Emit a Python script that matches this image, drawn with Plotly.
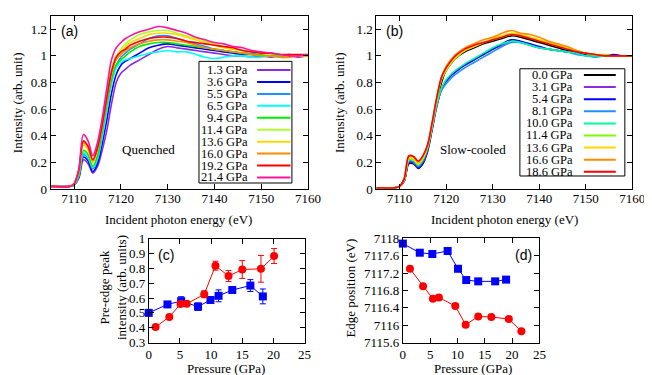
import plotly.graph_objects as go

# ---------------- data ----------------
energy = [7105, 7109, 7110, 7111, 7112, 7113, 7114, 7115, 7116, 7117, 7118, 7119, 7120, 7121, 7122,
          7124, 7126, 7128, 7130, 7132, 7134, 7136, 7138, 7140, 7142, 7144, 7146, 7148, 7150,
          7152, 7154, 7156, 7158, 7160]

# (a) Quenched spectra
quenched_labels = ["1.3 GPa", "3.6 GPa", "5.5 GPa", "6.5 GPa", "9.4 GPa", "11.4 GPa",
                   "13.6 GPa", "16.0 GPa", "19.2 GPa", "21.4 GPa"]
quenched_colors = ["#8a2be2", "#0000ff", "#1e90ff", "#00ffff", "#00ee00", "#adff2f",
                   "#ffd700", "#ff8c00", "#ff0000", "#ff149d"]
q_1p3 = [0.02, 0.02, 0.03, 0.08, 0.22, 0.19, 0.12, 0.17, 0.29, 0.44, 0.64, 0.80, 0.87, 0.90, 0.93,
         0.97, 1.01, 1.05, 1.07, 1.06, 1.05, 1.04, 1.03, 1.02, 1.01, 1.00, 1.00, 0.99, 1.00, 0.99, 1.00, 1.00, 0.99, 1.00]
q_3p6 = [0.02, 0.02, 0.03, 0.09, 0.24, 0.21, 0.13, 0.19, 0.34, 0.52, 0.72, 0.86, 0.93, 0.96, 0.98,
         1.02, 1.06, 1.08, 1.09, 1.08, 1.07, 1.06, 1.05, 1.04, 1.03, 1.02, 1.01, 1.01, 1.00, 1.00, 1.00, 1.01, 1.00, 1.00]
q_5p5 = [0.02, 0.02, 0.03, 0.10, 0.26, 0.23, 0.15, 0.22, 0.40, 0.60, 0.80, 0.93, 0.99, 1.02, 1.05,
         1.09, 1.13, 1.15, 1.15, 1.13, 1.11, 1.09, 1.07, 1.05, 1.04, 1.03, 1.02, 1.02, 1.01, 1.00, 1.00, 1.00, 1.00, 1.00]
q_6p5 = [0.02, 0.02, 0.03, 0.10, 0.27, 0.24, 0.16, 0.23, 0.39, 0.59, 0.79, 0.91, 0.95, 0.97, 0.98,
         1.00, 1.02, 1.03, 1.04, 1.03, 1.03, 1.01, 0.99, 0.98, 0.99, 1.00, 1.00, 0.99, 0.99, 1.00, 0.99, 1.00, 1.00, 1.00]
q_9p4 = [0.02, 0.02, 0.03, 0.11, 0.29, 0.26, 0.17, 0.25, 0.43, 0.63, 0.82, 0.93, 0.97, 1.00, 1.03,
         1.07, 1.09, 1.10, 1.10, 1.09, 1.08, 1.07, 1.06, 1.05, 1.04, 1.03, 1.02, 1.01, 1.01, 1.00, 1.00, 1.00, 1.00, 1.00]
q_11p4 = [0.02, 0.02, 0.04, 0.14, 0.36, 0.32, 0.21, 0.32, 0.51, 0.72, 0.90, 1.00, 1.05, 1.09, 1.12,
          1.16, 1.18, 1.19, 1.19, 1.17, 1.15, 1.13, 1.11, 1.09, 1.07, 1.05, 1.04, 1.03, 1.02, 1.01, 1.01, 1.00, 1.00, 1.00]
q_13p6 = [0.02, 0.02, 0.04, 0.13, 0.33, 0.29, 0.20, 0.30, 0.47, 0.68, 0.87, 0.98, 1.03, 1.07, 1.10,
          1.13, 1.16, 1.17, 1.17, 1.16, 1.14, 1.12, 1.10, 1.08, 1.06, 1.05, 1.04, 1.03, 1.02, 1.02, 1.01, 1.00, 1.00, 1.00]
q_16p0 = [0.02, 0.02, 0.04, 0.14, 0.35, 0.31, 0.21, 0.30, 0.47, 0.68, 0.87, 0.97, 1.01, 1.04, 1.06,
          1.09, 1.11, 1.12, 1.12, 1.11, 1.10, 1.08, 1.06, 1.05, 1.04, 1.03, 1.02, 1.01, 1.00, 1.00, 0.99, 0.99, 1.00, 1.00]
q_19p2 = [0.02, 0.02, 0.04, 0.14, 0.36, 0.32, 0.22, 0.31, 0.48, 0.69, 0.88, 0.99, 1.03, 1.05, 1.08,
          1.11, 1.13, 1.14, 1.14, 1.13, 1.11, 1.10, 1.09, 1.08, 1.07, 1.06, 1.04, 1.03, 1.02, 1.02, 1.01, 1.01, 1.01, 1.01]
q_21p4 = [0.02, 0.02, 0.04, 0.15, 0.41, 0.36, 0.25, 0.35, 0.53, 0.76, 0.97, 1.06, 1.10, 1.13, 1.15,
          1.18, 1.20, 1.22, 1.21, 1.19, 1.17, 1.14, 1.12, 1.10, 1.09, 1.07, 1.06, 1.04, 1.03, 1.02, 1.01, 1.00, 1.00, 1.01]
quenched_spectra = [q_1p3, q_3p6, q_5p5, q_6p5, q_9p4, q_11p4, q_13p6, q_16p0, q_19p2, q_21p4]

# (b) Slow-cooled spectra
slow_labels = ["0.0 GPa", "3.1 GPa", "5.4 GPa", "8.1 GPa", "10.0 GPa", "11.4 GPa",
               "13.6 GPa", "16.6 GPa", "18.6 GPa"]
slow_colors = ["#000000", "#8a2be2", "#0000ff", "#1e90ff", "#00fa9a", "#7cfc00",
               "#ffd700", "#ff8c00", "#ff0000"]
s_0p0 = [0.01, 0.01, 0.02, 0.06, 0.19, 0.19, 0.155, 0.19, 0.28, 0.45, 0.64, 0.80, 0.89, 0.94, 0.98,
         1.03, 1.06, 1.09, 1.11, 1.13, 1.15, 1.14, 1.12, 1.10, 1.08, 1.06, 1.04, 1.03, 1.01, 1.00, 1.00, 1.00, 1.00, 1.00]
s_3p1 = [0.01, 0.01, 0.02, 0.06, 0.20, 0.195, 0.16, 0.20, 0.29, 0.45, 0.62, 0.75, 0.81, 0.85, 0.88,
         0.93, 0.97, 1.01, 1.05, 1.08, 1.11, 1.10, 1.08, 1.06, 1.05, 1.04, 1.03, 1.02, 1.01, 1.00, 1.00, 1.00, 1.00, 1.00]
s_5p4 = [0.01, 0.01, 0.02, 0.065, 0.205, 0.20, 0.165, 0.205, 0.30, 0.46, 0.63, 0.75, 0.81, 0.85, 0.88,
         0.93, 0.97, 1.01, 1.05, 1.09, 1.12, 1.11, 1.09, 1.07, 1.05, 1.04, 1.03, 1.02, 1.01, 1.00, 1.00, 1.01, 1.00, 1.00]
s_8p1 = [0.01, 0.01, 0.02, 0.065, 0.21, 0.205, 0.17, 0.21, 0.30, 0.46, 0.63, 0.74, 0.79, 0.83, 0.86,
         0.91, 0.95, 0.99, 1.03, 1.07, 1.10, 1.10, 1.08, 1.06, 1.05, 1.04, 1.03, 1.01, 1.00, 0.99, 1.00, 1.00, 1.00, 1.00]
s_10p0 = [0.01, 0.01, 0.02, 0.07, 0.22, 0.215, 0.18, 0.22, 0.31, 0.47, 0.64, 0.76, 0.82, 0.86, 0.89,
          0.94, 0.98, 1.02, 1.06, 1.09, 1.11, 1.10, 1.08, 1.06, 1.05, 1.04, 1.03, 1.02, 1.00, 1.00, 1.00, 1.00, 1.00, 1.00]
s_11p4 = [0.01, 0.01, 0.02, 0.07, 0.225, 0.22, 0.185, 0.23, 0.32, 0.48, 0.67, 0.82, 0.89, 0.94, 0.98,
          1.04, 1.07, 1.10, 1.12, 1.14, 1.16, 1.15, 1.14, 1.12, 1.10, 1.08, 1.06, 1.04, 1.02, 1.01, 1.01, 1.00, 1.00, 1.00]
s_13p6 = [0.01, 0.01, 0.02, 0.075, 0.23, 0.225, 0.19, 0.235, 0.32, 0.49, 0.68, 0.83, 0.90, 0.95, 0.99,
          1.04, 1.07, 1.10, 1.13, 1.15, 1.17, 1.16, 1.14, 1.12, 1.10, 1.08, 1.06, 1.04, 1.02, 1.01, 1.00, 1.00, 1.00, 1.00]
s_16p6 = [0.01, 0.01, 0.02, 0.08, 0.245, 0.24, 0.20, 0.245, 0.33, 0.50, 0.69, 0.84, 0.92, 0.97, 1.01,
          1.06, 1.09, 1.12, 1.14, 1.17, 1.19, 1.17, 1.16, 1.14, 1.11, 1.09, 1.07, 1.04, 1.02, 1.01, 1.00, 1.00, 1.00, 1.00]
s_18p6 = [0.01, 0.01, 0.02, 0.08, 0.25, 0.245, 0.21, 0.25, 0.33, 0.50, 0.69, 0.84, 0.91, 0.96, 1.00,
          1.05, 1.08, 1.10, 1.12, 1.14, 1.16, 1.15, 1.13, 1.11, 1.09, 1.07, 1.05, 1.03, 1.02, 1.01, 1.00, 1.00, 1.00, 1.00]
slow_spectra = [s_0p0, s_3p1, s_5p4, s_8p1, s_10p0, s_11p4, s_13p6, s_16p6, s_18p6]

# (c) pre-edge peak intensity
c_quenched_p = [1.1, 3.3, 5.1, 6.1, 8.9, 10.7, 12.8, 15.0, 18.0, 20.1]
c_quenched_i = [0.405, 0.473, 0.559, 0.561, 0.625, 0.818, 0.748, 0.792, 0.797, 0.883]
c_quenched_err = [0.008, 0.01, 0.01, 0.01, 0.023, 0.03, 0.037, 0.06, 0.09, 0.05]
c_slow_p = [0.0, 3.0, 5.2, 7.9, 9.9, 11.2, 13.4, 16.3, 18.3]
c_slow_i = [0.50, 0.557, 0.579, 0.542, 0.587, 0.615, 0.654, 0.684, 0.611]
c_slow_err = [0.01, 0.015, 0.03, 0.025, 0.02, 0.04, 0.02, 0.04, 0.05]

# (d) edge position
d_quenched_p = [1.3, 3.7, 5.5, 6.6, 9.6, 11.5, 13.8, 16.2, 19.4, 21.7]
d_quenched_e = [7117.30, 7116.90, 7116.61, 7116.64, 7116.44, 7116.01, 7116.20, 7116.19, 7116.14, 7115.86]
d_slow_p = [0.0, 3.1, 5.4, 8.2, 10.1, 11.6, 13.8, 16.9, 18.9]
d_slow_e = [7117.88, 7117.67, 7117.64, 7117.71, 7117.30, 7117.04, 7117.01, 7117.01, 7117.05]
d_yticks = [7115.6, 7116.0, 7116.4, 7116.8, 7117.2, 7117.6, 7118.0]

# ---------------- figure ----------------
W, H = 652, 375
def fx(px):
    return px / W
def fy(py):
    return 1 - py / H

SERIF = "Liberation Serif, Times New Roman, Times, serif"
SANS = "Liberation Sans, Arial, Helvetica, sans-serif"

fig = go.Figure()

for vals, col in zip(quenched_spectra, quenched_colors):
    assert len(vals) == len(energy)
    fig.add_trace(go.Scatter(x=energy, y=vals, mode="lines", xaxis="x", yaxis="y",
                             line=dict(color=col, width=1.6, shape="spline", smoothing=0.9),
                             showlegend=False, hoverinfo="skip"))
for vals, col in zip(slow_spectra, slow_colors):
    assert len(vals) == len(energy)
    fig.add_trace(go.Scatter(x=energy, y=vals, mode="lines", xaxis="x2", yaxis="y2",
                             line=dict(color=col, width=1.6, shape="spline", smoothing=0.9),
                             showlegend=False, hoverinfo="skip"))

red, blue = "#ff0000", "#0000ff"
fig.add_trace(go.Scatter(x=c_slow_p, y=c_slow_i, mode="lines+markers", xaxis="x3", yaxis="y3",
                         line=dict(color=blue, width=1), marker=dict(symbol="square", size=8, color=blue),
                         error_y=dict(type="data", array=c_slow_err, color=blue, thickness=1, width=3),
                         cliponaxis=False, showlegend=False))
fig.add_trace(go.Scatter(x=c_quenched_p, y=c_quenched_i, mode="lines+markers", xaxis="x3", yaxis="y3",
                         line=dict(color=red, width=1), marker=dict(symbol="circle", size=8, color=red),
                         error_y=dict(type="data", array=c_quenched_err, color=red, thickness=1, width=3),
                         cliponaxis=False, showlegend=False))
fig.add_trace(go.Scatter(x=d_slow_p, y=d_slow_e, mode="lines+markers", xaxis="x4", yaxis="y4",
                         line=dict(color=blue, width=1), marker=dict(symbol="square", size=8, color=blue),
                         cliponaxis=False, showlegend=False))
fig.add_trace(go.Scatter(x=d_quenched_p, y=d_quenched_e, mode="lines+markers", xaxis="x4", yaxis="y4",
                         line=dict(color=red, width=1), marker=dict(symbol="circle", size=8, color=red),
                         cliponaxis=False, showlegend=False))

ax = dict(showline=True, linecolor="black", linewidth=1, mirror="allticks", ticks="inside",
          ticklen=5, tickcolor="black", showgrid=False, zeroline=False,
          tickfont=dict(family=SERIF, size=13, color="black"))

fig.update_layout(
    width=W, height=H, margin=dict(l=0, r=0, t=0, b=0),
    paper_bgcolor="white", plot_bgcolor="white", showlegend=False,
    xaxis=dict(ax, domain=[fx(40.7), fx(304.5)], range=[7105, 7160], tick0=7110, dtick=10, anchor="y",
               ticklabelstandoff=-3),
    yaxis=dict(ax, domain=[fy(181.3), fy(0.9)], range=[0, 1.3], tick0=0, dtick=0.2, anchor="x"),
    xaxis2=dict(ax, domain=[fx(374.5), fx(637)], range=[7105, 7160], tick0=7110, dtick=10, anchor="y2",
                ticklabelstandoff=-3),
    yaxis2=dict(ax, domain=[fy(181.3), fy(0.9)], range=[0, 1.3], tick0=0, dtick=0.2, anchor="x2"),
    xaxis3=dict(ax, domain=[fx(141.2), fx(301)], range=[0, 25], tick0=0, dtick=5, anchor="y3"),
    yaxis3=dict(ax, domain=[fy(341.2), fy(233)], range=[0.3, 1.0], tick0=0.3, dtick=0.1, anchor="x3"),
    xaxis4=dict(ax, domain=[fx(401.7), fx(541.7)], range=[0, 25], tick0=0, dtick=5, anchor="y4"),
    yaxis4=dict(ax, domain=[fy(341.2), fy(232.7)], range=[7115.6, 7118], tickmode="array",
                tickvals=d_yticks, ticktext=[f"{v:g}" for v in d_yticks], anchor="x4"),
)

ann = []
shapes = []
def text(px, py, s, size=13, family=SERIF, angle=0, xanchor="center"):
    ann.append(dict(x=fx(px), y=fy(py), xref="paper", yref="paper", text=s, showarrow=False,
                    xanchor=xanchor, yanchor="middle", textangle=angle,
                    font=dict(family=family, size=size, color="black")))

# panel labels and notes
text(60, 16.5, "(a)", 14, SANS)
text(393.5, 16.5, "(b)", 14, SANS)
text(158.5, 250, "(c)", 14, SANS)
text(525, 250, "(d)", 14, SANS)
text(141, 140, "Quenched", 13)
text(473.5, 140, "Slow-cooled", 13)
# axis titles
text(7, 91, "Intensity (arb. unit)", 13, angle=-90)
text(337, 91, "Intensity (arb. unit)", 13, angle=-90)
text(172, 213.5, "Incident photon energy (eV)", 13)
text(506, 213.5, "Incident photon energy (eV)", 13)
text(104, 284, "Pre-edge peak<br>intensity (arb. units)", 13, angle=-90)
text(348.5, 284, "Edge position (eV)", 13, angle=-90)
text(220, 368, "Pressure (GPa)", 13)
text(473.5, 368, "Pressure (GPa)", 13)

# legends (gnuplot style: label then line sample)
def legend(box, labels, colors, first_y, step, text_right, lx0, lx1):
    x0, y0, x1, y1 = box
    shapes.append(dict(type="rect", xref="paper", yref="paper", x0=fx(x0), x1=fx(x1), y0=fy(y1), y1=fy(y0),
                       line=dict(color="black", width=1), fillcolor="white", layer="above"))
    for i, (lab, col) in enumerate(zip(labels, colors)):
        yy = first_y + i * step
        text(text_right, yy, lab, 12.5, xanchor="right")
        shapes.append(dict(type="line", xref="paper", yref="paper", x0=fx(lx0), x1=fx(lx1),
                           y0=fy(yy), y1=fy(yy), line=dict(color=col, width=2), layer="above"))

legend((192.7, 48.3, 288, 175), quenched_labels, quenched_colors, 57.3, 12.44, 245.5, 252.3, 286.5)
legend((521.7, 56, 629.3, 167.7), slow_labels, slow_colors, 62.5, 12.6, 578, 587.3, 620)

fig.update_layout(annotations=ann, shapes=shapes)
fig.write_html("out.html")
